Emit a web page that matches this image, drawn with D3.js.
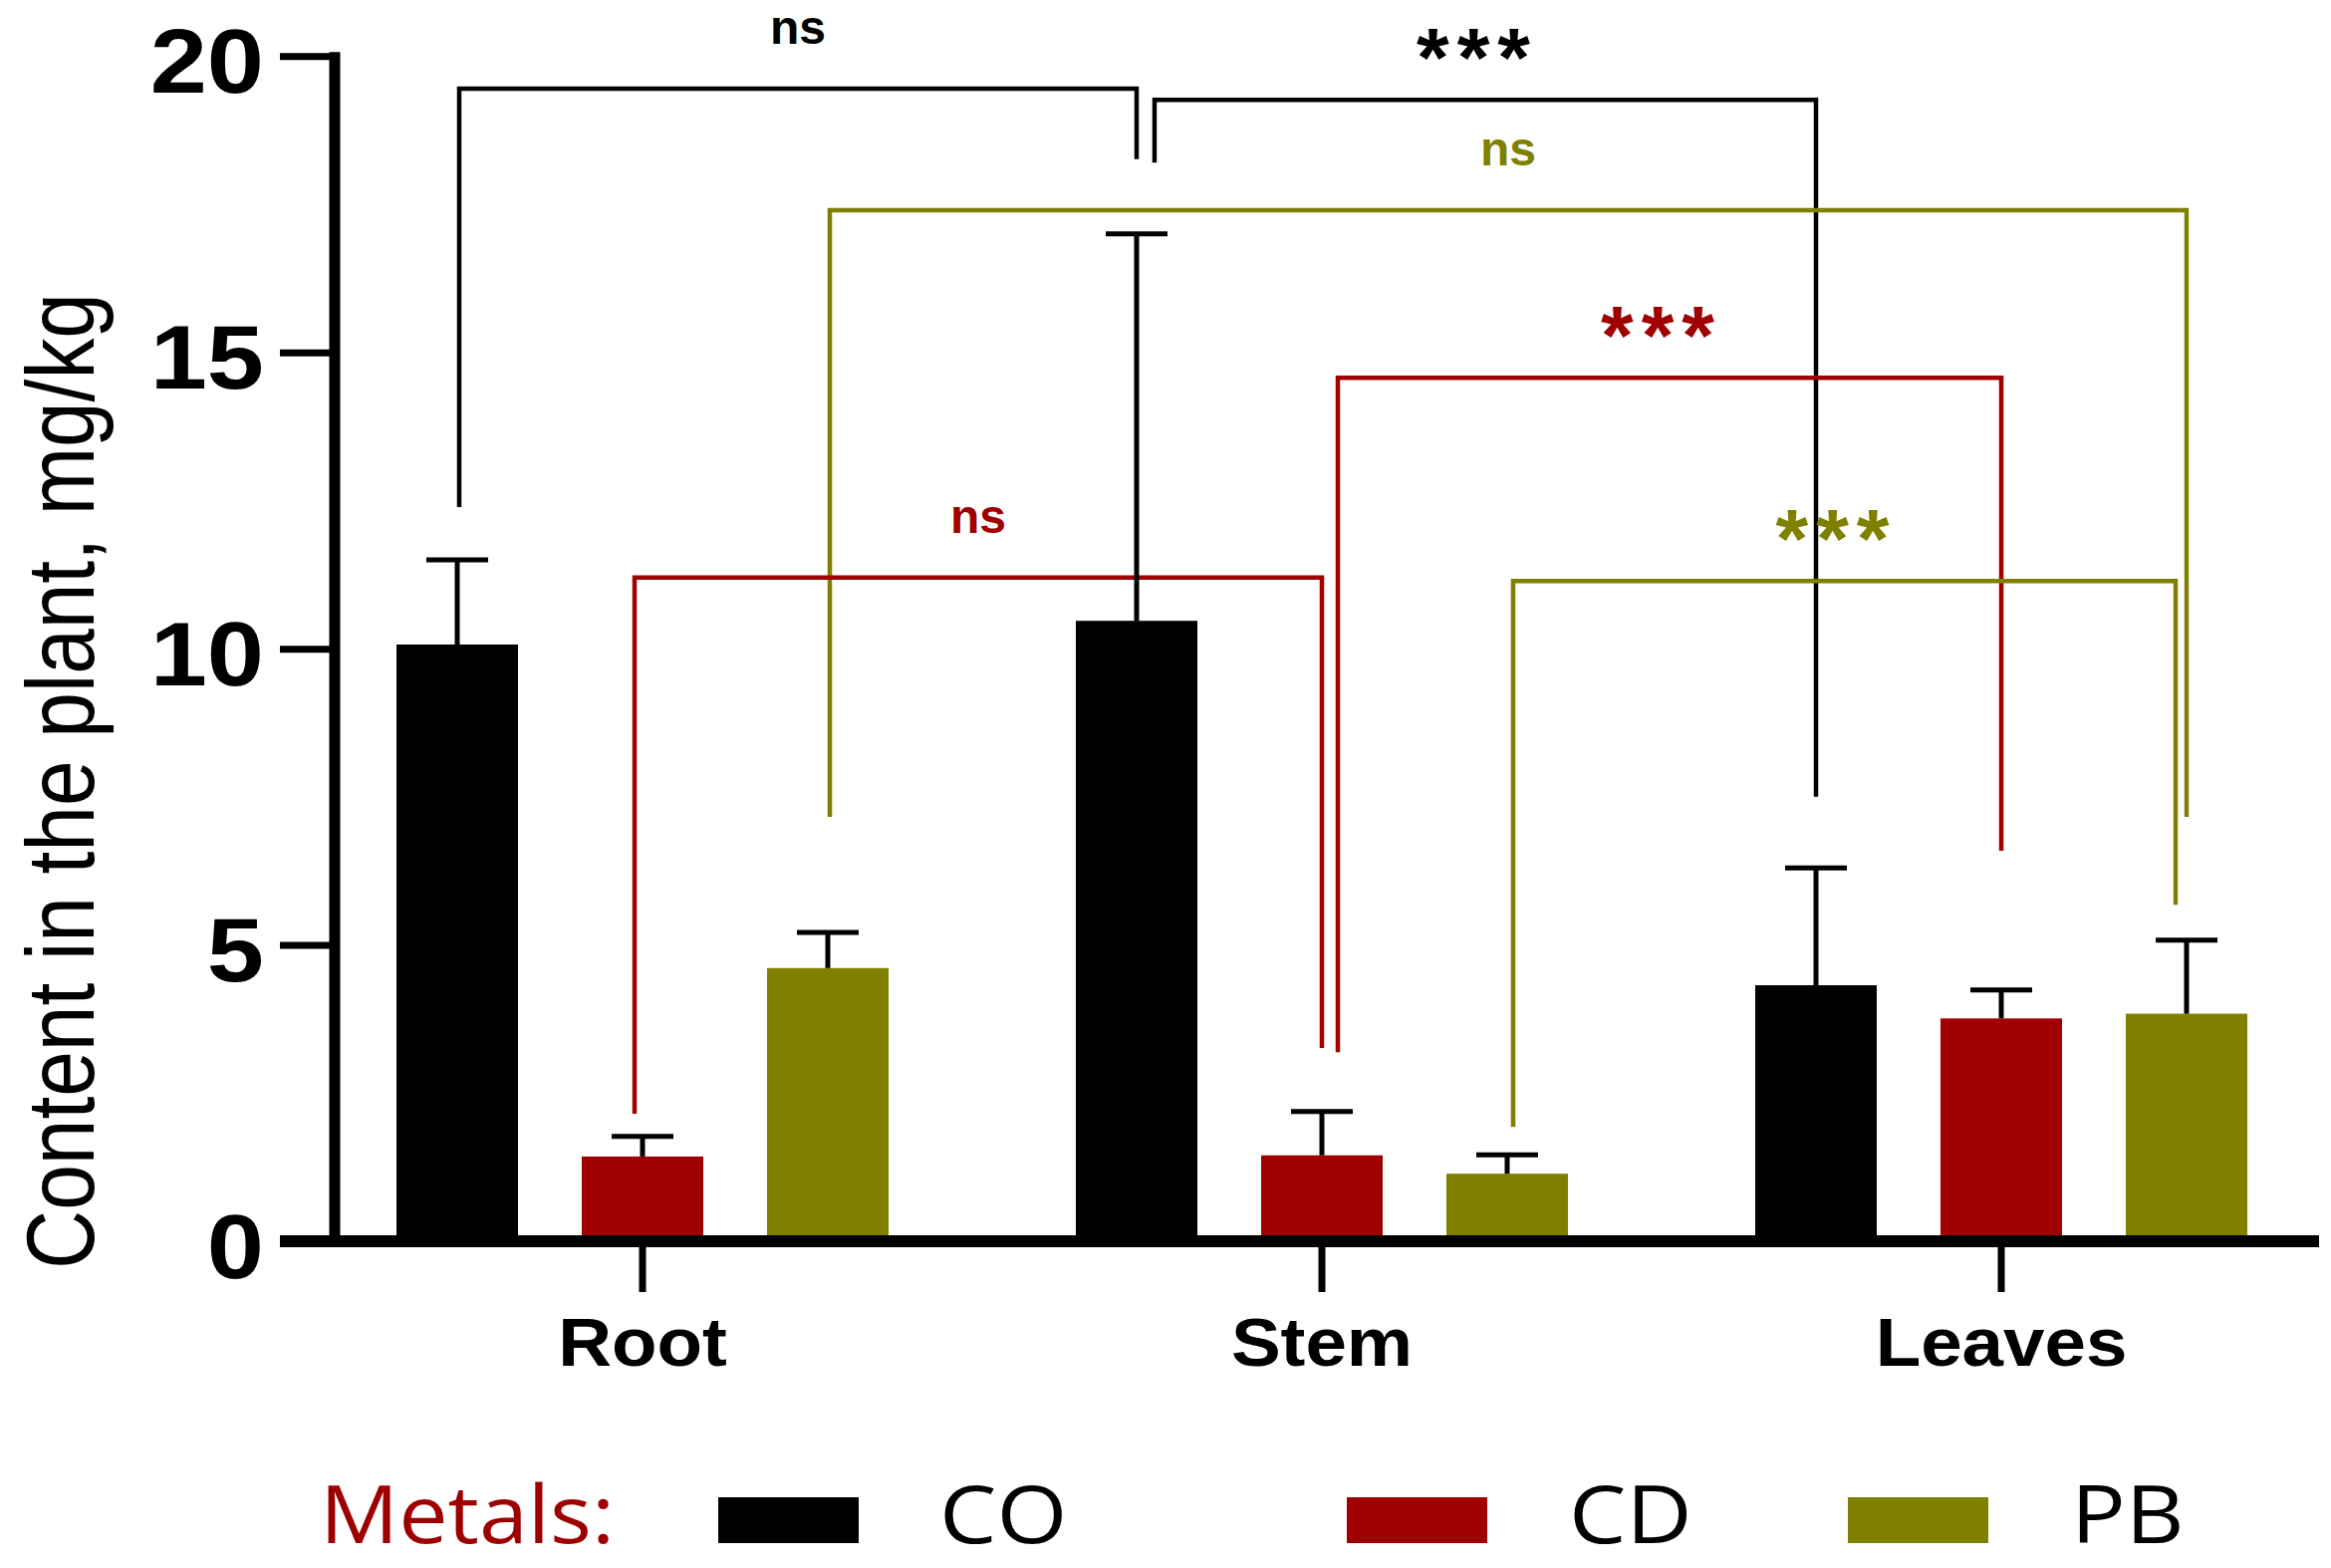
<!DOCTYPE html>
<html>
<head>
<meta charset="utf-8">
<script src="https://cdn.jsdelivr.net/npm/d3@7"></script>
<style>
  html, body { margin: 0; padding: 0; background: #ffffff; }
  svg { display: block; }
</style>
</head>
<body>
<svg id="chart" width="2340" height="1574"></svg>
<script>
// ---------------- DATA ----------------
const categories = ["Root", "Stem", "Leaves"];
const metals = ["CO", "CD", "PB"];
// mean contents (mg/kg) per category, ordered CO, CD, PB
const meanCO = [10.07, 10.47, 4.32];
const meanCD = [1.43, 1.45, 3.76];
const meanPB = [4.61, 1.14, 3.84];
// upper error (SD) per category
const sdCO = [1.43, 6.53, 1.98];
const sdCD = [0.34, 0.74, 0.48];
const sdPB = [0.60, 0.32, 1.24];
const yTicks = [0, 5, 10, 15, 20];
const yLabel = "Content in the plant, mg/kg";
const legendTitle = "Metals:";
// significance brackets: metal, from category, to category, bracket level, leg ends (data units), label
const bracketMetal = ["CO", "CO", "PB", "CD", "CD", "PB"];
const bracketFrom = ["Root", "Stem", "Root", "Stem", "Root", "Stem"];
const bracketTo = ["Stem", "Leaves", "Leaves", "Leaves", "Stem", "Leaves"];
const bracketLevel = [19.45, 19.26, 17.40, 14.57, 11.20, 11.14];
const bracketLeftEnd = [12.39, 18.20, 7.16, 3.19, 2.15, 1.93];
const bracketRightEnd = [18.26, 7.50, 7.16, 6.59, 3.26, 5.68];
const bracketLabel = ["ns", "***", "ns", "***", "ns", "***"];

// ---------------- STYLE / LAYOUT ----------------
const colors = { CO: "#000000", CD: "#a00000", PB: "#808000" };
const legNudge = [[2, 0], [18, 0], [2, 0], [16, 0], [-8, 0], [6, -11]];
const legendSwatchX = [721, 1352, 1855];
const legendTextX = [943, 1575, 2079];

const means = { CO: meanCO, CD: meanCD, PB: meanPB };
const sds = { CO: sdCO, CD: sdCD, PB: sdPB };
const table = categories.map((c, i) => ({
  cat: c,
  values: metals.map(m => ({ cat: c, metal: m, mean: means[m][i], sd: sds[m][i] }))
}));

const svg = d3.select("#chart");
const FONT = "'Liberation Sans', Arial, sans-serif";

const y = d3.scaleLinear().domain([0, 20]).range([1246, 56.3]);
const x0 = d3.scaleBand().domain(categories).range([304, 2350]);
const x1 = d3.scaleBand().domain(metals).range([62, 620]).paddingInner(0.344).paddingOuter(0.172);
const barCenter = (cat, metal) => x0(cat) + x1(metal) + x1.bandwidth() / 2;

// ---------------- BRACKETS (behind bars) ----------------
const gBr = svg.append("g");
bracketMetal.forEach((m, i) => {
  const xl = barCenter(bracketFrom[i], m) + legNudge[i][0];
  const xr = barCenter(bracketTo[i], m) + legNudge[i][1];
  const yl = y(bracketLevel[i]);
  const path = d3.path();
  path.moveTo(xl, y(bracketLeftEnd[i]));
  path.lineTo(xl, yl);
  path.lineTo(xr, yl);
  path.lineTo(xr, y(bracketRightEnd[i]));
  gBr.append("path")
    .attr("d", path.toString())
    .attr("fill", "none")
    .attr("stroke", colors[m])
    .attr("stroke-width", 4.5)
    .attr("stroke-linejoin", "miter");
  const isStar = bracketLabel[i] === "***";
  gBr.append("text")
    .attr("x", (xl + xr) / 2 + (isStar ? -8 : 0))
    .attr("y", isStar ? yl - 13 : yl - 45)
    .attr("text-anchor", "middle")
    .attr("font-family", FONT)
    .attr("font-weight", "bold")
    .attr("font-size", isStar ? 84 : 48)
    .attr("letter-spacing", isStar ? 8 : 0)
    .attr("fill", colors[m])
    .text(bracketLabel[i]);
});

// ---------------- BARS ----------------
const groups = svg.append("g").selectAll("g")
  .data(table).join("g")
  .attr("transform", d => `translate(${x0(d.cat)},0)`);

groups.selectAll("rect")
  .data(d => d.values).join("rect")
  .attr("x", d => x1(d.metal))
  .attr("y", d => y(d.mean))
  .attr("width", x1.bandwidth())
  .attr("height", d => y(0) - y(d.mean))
  .attr("fill", d => colors[d.metal]);

// error bars (upper only)
groups.selectAll("line.err")
  .data(d => d.values).join("line")
  .attr("class", "err")
  .attr("x1", d => x1(d.metal) + x1.bandwidth() / 2)
  .attr("x2", d => x1(d.metal) + x1.bandwidth() / 2)
  .attr("y1", d => y(d.mean))
  .attr("y2", d => y(d.mean + d.sd))
  .attr("stroke", "#000").attr("stroke-width", 5);
groups.selectAll("line.cap")
  .data(d => d.values).join("line")
  .attr("class", "cap")
  .attr("x1", d => x1(d.metal) + x1.bandwidth() / 2 - 31)
  .attr("x2", d => x1(d.metal) + x1.bandwidth() / 2 + 31)
  .attr("y1", d => y(d.mean + d.sd))
  .attr("y2", d => y(d.mean + d.sd))
  .attr("stroke", "#000").attr("stroke-width", 5);

// ---------------- AXES ----------------
// y axis
const yAxis = d3.axisLeft(y).tickValues(yTicks).tickSize(55).tickSizeOuter(0).tickPadding(0);
const gy = svg.append("g").attr("transform", "translate(336,0)").call(yAxis);
gy.select(".domain").attr("stroke", "#000").attr("stroke-width", 11)
  .attr("d", `M0,${y(20) - 4}V${y(0)}`);
gy.selectAll(".tick line").attr("stroke", "#000").attr("stroke-width", 7);
gy.selectAll(".tick text")
  .attr("x", null).attr("dy", null)
  .attr("transform", "translate(-71,36) scale(1.13,1)")
  .attr("text-anchor", "end")
  .attr("font-family", FONT).attr("font-weight", "bold").attr("font-size", 91)
  .attr("fill", "#000");

// x axis line
svg.append("line")
  .attr("x1", 281).attr("x2", 2328)
  .attr("y1", y(0)).attr("y2", y(0))
  .attr("stroke", "#000").attr("stroke-width", 12);

const xAxis = d3.axisBottom(x0).tickSize(51).tickSizeOuter(0).tickPadding(0);
const gx = svg.append("g").attr("transform", `translate(0,${y(0)})`).call(xAxis);
gx.select(".domain").remove();
gx.selectAll(".tick line").attr("stroke", "#000").attr("stroke-width", 7);
gx.selectAll(".tick text")
  .attr("y", null).attr("dy", null)
  .attr("transform", "translate(0,125) scale(1.08,1)")
  .attr("text-anchor", "middle")
  .attr("font-family", FONT).attr("font-weight", "bold").attr("font-size", 69)
  .attr("fill", "#000");

// y label
svg.append("text")
  .attr("transform", "translate(94,784) scale(1.17,1) rotate(-90)")
  .attr("text-anchor", "middle")
  .attr("font-family", FONT).attr("font-size", 82)
  .attr("fill", "#000")
  .text(yLabel);

// ---------------- LEGEND ----------------
const LFONT = "'Open Sans', 'Noto Sans', sans-serif";
svg.append("text")
  .attr("transform", "translate(321,1549) scale(1.1,1)")
  .attr("font-family", LFONT).attr("font-size", 80)
  .attr("fill", "#9e0000")
  .text(legendTitle);
const lg = svg.append("g").selectAll("g").data(metals).join("g");
lg.append("rect")
  .attr("x", (d, i) => legendSwatchX[i]).attr("y", 1503)
  .attr("width", 141).attr("height", 46)
  .attr("fill", d => colors[d]);
lg.append("text")
  .attr("transform", (d, i) => `translate(${legendTextX[i]},1549) scale(1.14,1)`)
  .attr("font-family", LFONT).attr("font-size", 80)
  .attr("fill", "#000")
  .text(d => d);
</script>
</body>
</html>
